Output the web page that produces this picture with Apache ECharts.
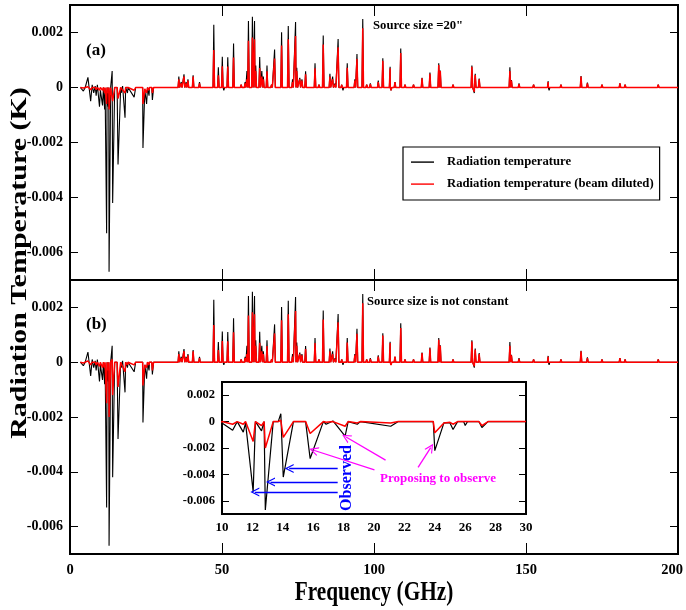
<!DOCTYPE html>
<html>
<head>
<meta charset="utf-8">
<script src="https://cdn.jsdelivr.net/npm/echarts@6/dist/echarts.min.js"></script>
<style>
  html, body { margin: 0; padding: 0; background: #fff; }
  #chart { width: 686px; height: 610px; }
</style>
</head>
<body>
<div id="chart"></div>
<script>
// ---- Spectrum below 30 GHz: sampled points (GHz, K) ----
const lowFreq = [3.4, 4.4, 5.0, 5.9, 6.8, 7.3, 7.8, 8.3, 8.6, 9.0,
  9.7, 10.0, 10.7, 11.0, 11.4, 11.55, 12.05, 12.2, 12.6, 12.77,
  12.85, 13.37, 13.7, 13.87, 14.03, 14.7, 15.5, 15.8, 16.67, 16.85,
  17.3, 18.1, 18.3, 18.9, 19.1, 21.1, 21.6, 23.9, 24.0, 24.6,
  25.0, 25.2, 25.5, 25.9, 26.0, 26.15, 26.9, 27.1, 27.5, 30.0];
const lowBlack = [0, -0.00013, 0, 0.00037, -0.0005, 0.0001, -0.0002, 0.00005, -0.0003, 0.0001,
  -0.0007, -0.0001, -0.00065, 0, -0.0008, -0.0001, -0.0053, 0, -0.0007, 0,
  -0.0067, 0, 0, 0.0006, -0.0042, 0, 0, -0.0028, 0, -0.0002,
  0.00005, -0.0011, 0, -0.0002, 0, -0.00035, 0, 0, -0.0022, -0.0001,
  -0.0001, -0.0006, 0, 0, -0.0003, 0, 0, -0.00045, 0, 0];
// beam diluted, source size = 20"
const lowRedA = [0, -0.00002, 0, 0.00003, -0.00008, 0, -0.00005, 0, -0.00008, 0,
  -0.0001, 0, -0.0001, 0, -0.0002, 0, -0.0006, 0, -0.0002, 0,
  -0.0008, 0, 0, 0.00005, -0.0005, 0, 0, -0.0004, 0, -0.00005,
  0, -0.0002, 0, -0.00005, 0, -0.0001, 0, 0, -0.0006, -0.00005,
  0, -0.0002, 0, 0, -0.0001, 0, 0, -0.0002, 0, 0];
// beam diluted, frequency dependent source size
const lowRedB = [0, -0.00003, 0, 0.00005, -0.0001, 0, -0.00005, 0, -0.0001, 0,
  -0.00015, 0, -0.0002, 0, -0.0002, 0, -0.0015, 0, -0.0003, 0,
  -0.002, 0, 0, 0.0001, -0.0012, 0, 0, -0.0009, 0, -0.00005,
  0, -0.00035, 0, -0.0001, 0, -0.0001, 0, 0, -0.00085, -0.0001,
  -0.00005, -0.0002, 0, 0, -0.0001, 0, 0, -0.0003, 0, 0];

// ---- Emission lines above 30 GHz: centre (GHz) and peak (K) ----
const lineFreq = [35.8, 36.6, 37.5, 38.2, 38.8, 40.5, 42.6, 44.5, 47.3, 48.8,
  50.1, 50.6, 51.9, 53.8, 56.3, 57.6, 58.2, 58.7, 60.0, 60.7,
  61.1, 62.4, 63.1, 63.6, 64.8, 66.3, 67.3, 69.6, 71.8, 73.2,
  74.2, 74.6, 75.6, 76.3, 77.5, 80.6, 81.9, 83.3, 85.5, 86.4,
  87.2, 88.2, 89.4, 89.8, 91.2, 93.7, 94.4, 96.3, 97.6, 98.8,
  101.4, 102.9, 105.3, 105.6, 106.9, 108.8, 110.2, 113.0, 115.8, 118.4,
  121.3, 121.8, 124.0, 126.0, 131.0, 132.2, 133.0, 133.3, 134.6, 144.7,
  145.2, 147.7, 152.5, 157.3, 157.6, 161.5, 168.1, 170.2, 175.0, 180.9,
  182.6, 193.5];
const lineBlack = [0.0004, 0.0002, 0.00048, 0.0002, 0.0003, 0.00044, 0.0002, 0.00005, 0.00228, 0.00074,
  0.00112, -0.0001, 0.0011, 0.0016, 0.0001, 0.0002, 0.0006, 0.00242, 0.00257, 0.00242,
  0.0008, 0.00111, 0.0006, 0.0004, 0.0008, 0.0001, 0.00138, 0.00201, 0.00224, 0.0003,
  0.00238, 0.00072, 0.00035, 0.0003, 0.00059, 0.00088, 0.0001, 0.00189, 0.0005, 0.0004,
  0.00015, 0.00176, 0.0001, -0.0001, 0.00088, 0.0003, 0.00122, 0.00249, 0.0001, 0.00015,
  0.00025, 0.00106, 0.00075, -0.0001, 0.0002, 0.00142, 0.0001, 0.0001, 0.00035, 0.00054,
  0.00088, 0.00062, 0.00005, 0.0001, 0.00005, 0.0008, -0.0002, 0.0005, 0.00033, 0.00074,
  0.00027, 0.00015, 0.0001, 0.00023, -0.0001, 0.0001, 0.00042, 0.00018, 0.0001, 0.00015,
  0.0001, 0.0001];
const lineRed = [0.0003, 0.00015, 0.0004, 0.00015, 0.00025, 0.0004, 0.00015, 0.00005, 0.00136, 0.00044,
  0.00077, -0.00005, 0.00076, 0.00109, 0.0001, 0.00015, 0.0003, 0.0017, 0.00182, 0.00175,
  0.0006, 0.00071, 0.0004, 0.0003, 0.00059, 0.0001, 0.00105, 0.00153, 0.00175, 0.0002,
  0.00187, 0.0006, 0.0003, 0.00025, 0.00048, 0.0007, 0.0001, 0.00156, 0.0004, 0.0003,
  0.0001, 0.00146, 0.0001, -0.00005, 0.00072, 0.00025, 0.00104, 0.00215, 0.0001, 0.00012,
  0.0002, 0.00097, 0.0007, -0.0001, 0.0002, 0.00125, 0.0001, 0.0001, 0.00033, 0.0005,
  0.00082, 0.0006, 0.00005, 0.0001, 0.00005, 0.00075, -0.00015, 0.00045, 0.0003, 0.0006,
  0.00025, 0.00012, 0.0001, 0.0002, -0.00005, 0.0001, 0.0004, 0.00015, 0.0001, 0.00015,
  0.0001, 0.0001];

// ---- Axis ticks ----
const freqTicks = { min: 0, max: 200, step: 50 };
const insetFreqTicks = { min: 10, max: 30, step: 2 };
const tempTicks = [-0.006, -0.004, -0.002, 0, 0.002];
const tempRange = { min: -0.007, max: 0.003 };

// ---- Inset annotations (GHz, K) ----
const observedArrows = [
  [[17.61, -0.00355], [14.42, -0.00355]],
  [[17.61, -0.00457], [13.19, -0.00457]],
  [[17.61, -0.00534], [12.16, -0.00534]]
];
const proposedArrows = [
  [[20.76, -0.00292], [18.16, -0.00117]],
  [[20.03, -0.00365], [16.03, -0.00217]],
  [[22.90, -0.00347], [23.73, -0.00197]]
];

const LINE_HALF_WIDTH = 0.25; // GHz, base half-width of each emission line
const SPECTRUM_END = 200;

function spectrum(lowV, lineV) {
  const pts = lowFreq.map((f, i) => [f, lowV[i]]);
  lineFreq.forEach((f, i) => {
    pts.push([f - LINE_HALF_WIDTH, 0], [f, lineV[i]], [f + LINE_HALF_WIDTH, 0]);
  });
  pts.push([SPECTRUM_END, 0]);
  pts.sort((a, b) => a[0] - b[0]);
  return pts;
}

const dataBlack = spectrum(lowBlack, lineBlack);
const dataRedA = spectrum(lowRedA, lineRed);
const dataRedB = spectrum(lowRedB, lineRed);
const insetBlack = lowFreq.map((f, i) => [f, lowBlack[i]]);
const insetRed = lowFreq.map((f, i) => [f, lowRedB[i]]);

const SERIF = '"Liberation Serif", "Times New Roman", serif';
const labelFont = { fontFamily: SERIF, fontWeight: 'bold', color: '#000' };
const tickStyle = { color: '#000', width: 1 };
const fmt = v => (Math.abs(v) < 1e-12 ? '0' : v.toFixed(3));
const noLine = { show: false, onZero: false };

function freqAxis(grid, position, withLabels) {
  return {
    type: 'value', gridIndex: grid, position: position,
    min: freqTicks.min, max: freqTicks.max, interval: freqTicks.step,
    axisLine: noLine,
    axisTick: { inside: true, length: 11, lineStyle: tickStyle },
    axisLabel: {
      show: withLabels, margin: 9, fontSize: 14.5, ...labelFont,
      // the last label is nudged left so it stays inside the page
      formatter: v => (v === freqTicks.max ? '{edge|' + v + '}' : String(v)),
      rich: { edge: { padding: [0, 12, 0, 0], fontSize: 14.5, ...labelFont } }
    },
    splitLine: { show: false }
  };
}
function tempAxis(grid, position, withLabels) {
  return {
    type: 'value', gridIndex: grid, position: position,
    min: tempRange.min, max: tempRange.max,
    axisLine: noLine,
    axisTick: { inside: true, length: 8, lineStyle: tickStyle, customValues: tempTicks },
    axisLabel: { show: withLabels, margin: 7, fontSize: 14, formatter: fmt, customValues: tempTicks, ...labelFont },
    splitLine: { show: false }
  };
}

const chevron = 'path://M5,0 L10,10 L8.6,10 L5,2.8 L1.4,10 L0,10 Z';
function arrowLines(list, color) {
  return {
    silent: true, animation: false,
    symbol: ['none', chevron], symbolSize: 9,
    label: { show: false },
    lineStyle: { color: color, width: 1.3, type: 'solid' },
    emphasis: { disabled: true },
    data: list.map(([a, b]) => [{ coord: a }, { coord: b }])
  };
}

const lineSeries = (name, x, y, data, color, width, z) => ({
  name, type: 'line', xAxisIndex: x, yAxisIndex: y, data,
  symbol: 'none', showSymbol: false, smooth: false, silent: true, z,
  lineStyle: { color, width }, itemStyle: { color }
});

const frame = { show: true, borderColor: '#000', borderWidth: 2, backgroundColor: 'transparent', outerBoundsMode: 'none', containLabel: false };
// legend key: a short horizontal stroke inside a 23 x 14 box
const legendStroke = 'path://M0,0 M0,6.4 L23,6.4 L23,7.8 L0,7.8 Z M23,14';

const chart = echarts.init(document.getElementById('chart'), null, { renderer: 'canvas' });
chart.setOption({
  animation: false,
  backgroundColor: '#fff',
  grid: [
    { left: 70, top: 5, width: 608, height: 275, ...frame },
    { left: 70, top: 280, width: 608, height: 274, ...frame },
    { left: 222, top: 382, width: 304, height: 132, ...frame }
  ],
  xAxis: [
    freqAxis(0, 'bottom', false),
    freqAxis(0, 'top', false),
    freqAxis(1, 'bottom', true),
    freqAxis(1, 'top', false),
    {
      type: 'value', gridIndex: 2, position: 'bottom',
      min: insetFreqTicks.min, max: insetFreqTicks.max, interval: insetFreqTicks.step,
      axisLine: noLine,
      axisTick: { show: false },
      axisLabel: { margin: 7, fontSize: 13, ...labelFont },
      splitLine: { show: false }
    }
  ],
  yAxis: [
    tempAxis(0, 'left', true),
    tempAxis(0, 'right', false),
    tempAxis(1, 'left', true),
    tempAxis(1, 'right', false),
    {
      type: 'value', gridIndex: 2, position: 'left',
      min: tempRange.min, max: tempRange.max,
      axisLine: noLine,
      axisTick: { inside: true, length: 7, lineStyle: tickStyle, customValues: tempTicks },
      axisLabel: { margin: 7, fontSize: 12.5, formatter: fmt, customValues: tempTicks, ...labelFont },
      splitLine: { show: false }
    },
    {
      type: 'value', gridIndex: 2, position: 'right',
      min: tempRange.min, max: tempRange.max,
      axisLine: noLine,
      axisTick: { inside: true, length: 7, lineStyle: tickStyle, customValues: tempTicks },
      axisLabel: { show: false },
      splitLine: { show: false }
    }
  ],
  legend: {
    orient: 'vertical', left: 403, top: 147,
    data: [
      { name: 'Radiation temperature', icon: legendStroke, itemStyle: { color: '#000' } },
      { name: 'Radiation temperature (beam diluted)', icon: legendStroke, itemStyle: { color: '#ff0000' } }
    ],
    itemWidth: 23, itemHeight: 14, itemGap: 8,
    padding: [8, 6, 9, 8],
    borderColor: '#000', borderWidth: 1.2, backgroundColor: '#fff',
    selectedMode: false,
    textStyle: { fontFamily: SERIF, fontWeight: 'bold', fontSize: 12.7, color: '#000', padding: [0, 0, 0, 8] }
  },
  series: [
    lineSeries('Radiation temperature', 0, 0, dataBlack, '#000', 1.1, 2),
    lineSeries('Radiation temperature (beam diluted)', 0, 0, dataRedA, '#ff0000', 1.5, 3),
    lineSeries('Radiation temperature', 2, 2, dataBlack, '#000', 1.1, 2),
    lineSeries('Radiation temperature (beam diluted)', 2, 2, dataRedB, '#ff0000', 1.5, 3),
    Object.assign(lineSeries('Radiation temperature', 4, 4, insetBlack, '#000', 1.2, 2),
      { markLine: arrowLines(observedArrows, '#0000ff') }),
    Object.assign(lineSeries('Radiation temperature (beam diluted)', 4, 4, insetRed, '#ff0000', 1.5, 3),
      { markLine: arrowLines(proposedArrows, '#ff00ff') })
  ],
  graphic: [
    { type: 'text', x: 20, y: 263, rotation: Math.PI / 2, scaleY: 0.8, silent: true,
      style: { text: 'Radiation Temperature (K)', font: 'bold 30px ' + SERIF, fill: '#000', align: 'center', verticalAlign: 'middle' } },
    { type: 'text', x: 374, y: 593, scaleX: 0.76, silent: true,
      style: { text: 'Frequency (GHz)', font: 'bold 28px ' + SERIF, fill: '#000', align: 'center', verticalAlign: 'middle' } },
    { type: 'text', x: 86, y: 51, silent: true,
      style: { text: '(a)', font: 'bold 17px ' + SERIF, fill: '#000', align: 'left', verticalAlign: 'middle' } },
    { type: 'text', x: 86, y: 325, silent: true,
      style: { text: '(b)', font: 'bold 17px ' + SERIF, fill: '#000', align: 'left', verticalAlign: 'middle' } },
    { type: 'text', x: 373, y: 26, silent: true,
      style: { text: 'Source size =20"', font: 'bold 12.7px ' + SERIF, fill: '#000', align: 'left', verticalAlign: 'middle' } },
    { type: 'text', x: 367, y: 302, silent: true,
      style: { text: 'Source size is not constant', font: 'bold 12.7px ' + SERIF, fill: '#000', align: 'left', verticalAlign: 'middle' } },
    { type: 'text', x: 347, y: 478, rotation: Math.PI / 2, silent: true,
      style: { text: 'Observed', font: 'bold 16px ' + SERIF, fill: '#0000ff', align: 'center', verticalAlign: 'middle' } },
    { type: 'text', x: 380, y: 479, silent: true,
      style: { text: 'Proposing to observe', font: 'bold 13px ' + SERIF, fill: '#ff00ff', align: 'left', verticalAlign: 'middle' } }
  ]
});
</script>
</body>
</html>
